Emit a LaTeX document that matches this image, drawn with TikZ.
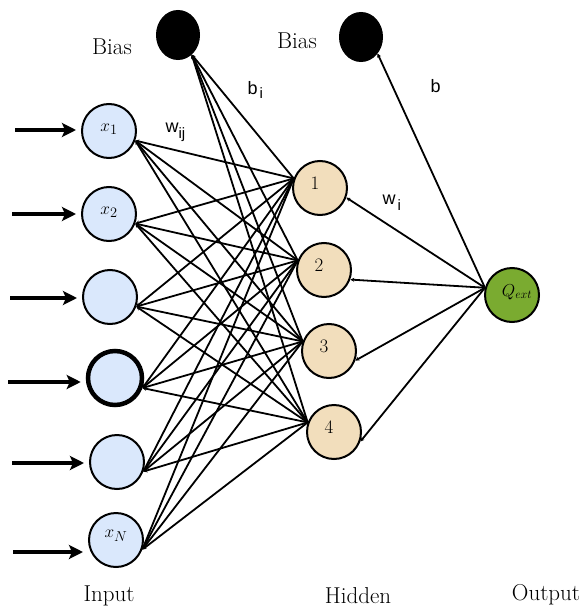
\documentclass[tikz,border=0pt]{standalone}
\usepackage{fontspec}
\setsansfont{Liberation Sans}
\usetikzlibrary{arrows.meta,shapes.geometric}

\definecolor{inputblue}{RGB}{218,232,252}
\definecolor{hiddentan}{RGB}{242,222,188}
\definecolor{outputgreen}{RGB}{122,171,48}

\begin{document}
\begin{tikzpicture}[x=1pt,y=-1pt,
    neuron/.style={circle, draw, line width=2pt, minimum size=54pt, inner sep=0pt},
    inputneuron/.style={neuron, fill=inputblue},
    hiddenneuron/.style={neuron, fill=hiddentan},
    outputneuron/.style={neuron, fill=outputgreen},
    neurontext/.style={inner sep=0pt, font=\fontsize{19}{21}\selectfont},
    biasnode/.style={ellipse, fill=black, draw, line width=1pt, minimum width=43pt, minimum height=49pt, inner sep=0pt},
    link/.style={line width=1.8pt, {Stealth[length=4pt,width=4pt]}-},
    inarrow/.style={line width=4pt, -{Stealth[length=14pt,width=14pt,inset=3pt]}, shorten >=5pt},
    layertext/.style={anchor=base, font=\fontsize{23}{25}\selectfont},
    weighttext/.style={anchor=base west, font=\sffamily\fontsize{18}{20}\selectfont}]

% Fix the size of the picture
\useasboundingbox (0,0) rectangle (584,607);

% Input layer
\node[inputneuron] (in1) at (109,131) {};
\node[inputneuron] (in2) at (109,214) {};
\node[inputneuron] (in3) at (110,297) {};
\node[inputneuron, line width=4.5pt] (in4) at (115,378) {};
\node[inputneuron] (in5) at (117,462) {};
\node[inputneuron] (in6) at (116,540) {};
\node[neurontext] (inlabel1) at ([yshift=2pt]in1.center) {$x_1$};
\node[neurontext] (inlabel2) at ([yshift=2pt]in2.center) {$x_2$};
\node[neurontext] (inlabel6) at ([yshift=4pt]in6.center) {$x_N$};

% Hidden layer
\foreach \j/\x/\y in {1/320/188, 2/324/270, 3/329/351, 4/334/432} {
    \node[hiddenneuron] (hid\j) at (\x,\y) {};
    \node[neurontext] (hidlabel\j) at ([xshift=-5pt,yshift=5pt]hid\j.center) {\j};
}

% Output layer
\node[outputneuron] (out) at (512,295) {};
\node[neurontext, font=\fontsize{17}{19}\selectfont] (outlabel) at ([xshift=5pt,yshift=3pt]out.center) {$Q_{ext}$};

% Bias neurons
\node[biasnode] (bias1) at (178,35) {};
\node[biasnode] (bias2) at (361,37) {};

% Arrows going into the inputs
\foreach \i/\x/\y in {1/15/130, 2/12/214, 3/10/298, 4/8/382, 5/12/463, 6/13/552} {
    \coordinate (arr\i) at (\x,\y);
    \draw[inarrow] (arr\i) -- (arr\i -| in\i.west);
}

% Input to hidden: every neuron with every neuron
\foreach \i in {1,...,6} {
    \foreach \j in {1,...,4} {
        \draw[link] (in\i.-20) -- (hid\j.160);
    }
}

% Bias to hidden
\foreach \j in {1,...,4} {
    \draw[link] (bias1.-55) -- (hid\j.160);
}

% Hidden to output
\foreach \j in {1,...,4} {
    \draw[link] (hid\j.-20) -- (out.165);
}
\draw[link] (bias2.-45) -- (out.165);

% Texts
\node[layertext] (biastext1) at (112,55) {Bias};
\node[layertext] (biastext2) at (297,49) {Bias};
\node[layertext] (inputtext) at (109,601) {Input};
\node[layertext] (hiddentext) at (358,603) {Hidden};
\node[layertext] (outputtext) at (546,600) {Output};

% Weights
\node[weighttext] (wij) at (162,132) {w\raisebox{-6pt}{\fontsize{15}{15}\selectfont ij}};
\node[weighttext] (bi) at (244,95) {b\kern2pt\raisebox{-4pt}{\fontsize{15}{15}\selectfont i}};
\node[weighttext] (wi) at (379,204) {w\kern2pt\raisebox{-6pt}{\fontsize{15}{15}\selectfont i}};
\node[weighttext] (b) at (427,93) {b};

\end{tikzpicture}
\end{document}
